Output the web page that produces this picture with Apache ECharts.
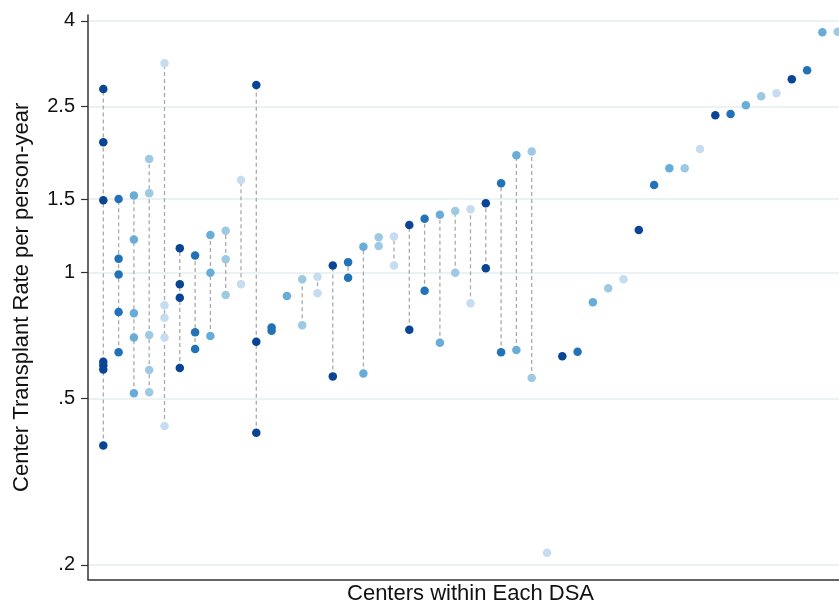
<!DOCTYPE html>
<html>
<head>
<meta charset="utf-8">
<script src="https://cdn.jsdelivr.net/npm/echarts@6/dist/echarts.min.js"></script>
<style>
html,body{margin:0;padding:0;background:#fff;}
#chart{width:839px;height:606px;}
</style>
</head>
<body>
<div id="chart"></div>
<script>
// Center transplant rates (per person-year), one list per DSA, DSAs in plotted order
const dsaRates = [
  [2.75, 2.05, 1.49, 0.612, 0.601, 0.587, 0.386],
  [1.50, 1.08, 0.99, 0.805, 0.645],
  [1.53, 1.20, 0.80, 0.70, 0.515],
  [1.87, 1.55, 0.71, 0.585, 0.518],
  [3.17, 0.836, 0.78, 0.70, 0.43],
  [1.144, 0.938, 0.871, 0.592],
  [1.10, 0.72, 0.657],
  [1.23, 1.00, 0.706],
  [1.26, 1.077, 0.884],
  [1.667, 0.938],
  [2.81, 0.684, 0.414],
  [0.740, 0.726],
  [0.88],
  [0.964, 0.749],
  [0.978, 0.893],
  [1.04, 0.565],
  [1.06, 0.973],
  [1.154, 0.574],
  [1.215, 1.158],
  [1.22, 1.04],
  [1.30, 0.73],
  [1.346, 0.906],
  [1.376, 0.68],
  [1.405, 1.00],
  [1.418, 0.845],
  [1.466, 1.025],
  [1.636, 0.645],
  [1.91, 0.653],
  [1.95, 0.56],
  [0.214],
  [0.631],
  [0.647],
  [0.85],
  [0.918],
  [0.964],
  [1.265],
  [1.621],
  [1.778],
  [1.778],
  [1.976],
  [2.38],
  [2.397],
  [2.515],
  [2.642],
  [2.686],
  [2.902],
  [3.05],
  [3.76],
  [3.77]
];
const yTicks = [0.2, 0.5, 1, 1.5, 2.5, 4];
const palette = ['#0a4595', '#2272b8', '#68acd8', '#9ec9e3', '#c6dcf0'];
const yTitle = 'Center Transplant Rate per person-year';
const xTitle = 'Centers within Each DSA';

const points = [];
const ranges = [];
dsaRates.forEach((rates, i) => {
  const idx = i + 1;
  rates.forEach(r => points.push([idx, r]));
  if (rates.length > 1) {
    ranges.push([idx, Math.min.apply(null, rates), Math.max.apply(null, rates)]);
  }
});

const chart = echarts.init(document.getElementById('chart'), null, {renderer: 'canvas'});
const font = 'Liberation Sans, Arial, Helvetica, sans-serif';
chart.setOption({
  animation: false,
  backgroundColor: '#ffffff',
  grid: {left: 88, right: -14, top: 15, bottom: 26.5, containLabel: false, outerBoundsMode: 'none'},
  xAxis: {
    type: 'value',
    min: 0,
    max: dsaRates.length + 1,
    name: xTitle,
    nameLocation: 'middle',
    nameGap: 3,
    nameTextStyle: {fontFamily: font, fontSize: 22, color: '#111', verticalAlign: 'top'},
    axisLine: {show: true, lineStyle: {color: '#333', width: 1.5}},
    axisTick: {show: false},
    axisLabel: {show: false},
    splitLine: {show: false}
  },
  yAxis: {
    type: 'log',
    logBase: 10,
    min: 0.1846,
    max: 4.134,
    name: yTitle,
    nameLocation: 'middle',
    nameGap: 55,
    nameTextStyle: {fontFamily: font, fontSize: 22, color: '#111'},
    axisLine: {show: true, lineStyle: {color: '#333', width: 1.5}},
    axisTick: {show: true, inside: false, length: 7, customValues: yTicks, lineStyle: {color: '#333', width: 1.2}},
    axisLabel: {
      customValues: yTicks,
      fontFamily: font, fontSize: 20, color: '#111', margin: 13,
      formatter: v => { const n = Number(Number(v).toFixed(3)); return n < 1 ? String(n).replace(/^0\./, '.') : String(n); }
    },
    splitLine: {show: true, lineStyle: {color: '#e4eef0', width: 1.5}}
  },
  series: [
    {
      type: 'custom',
      data: ranges,
      encode: {x: 0, y: [1, 2]},
      silent: true,
      z: 1,
      renderItem: (params, api) => {
        const x = api.value(0);
        const p1 = api.coord([x, api.value(1)]);
        const p2 = api.coord([x, api.value(2)]);
        return {
          type: 'line',
          shape: {x1: p1[0], y1: p1[1], x2: p2[0], y2: p2[1]},
          style: {stroke: '#ababab', lineWidth: 1.3, lineDash: [4, 3]}
        };
      }
    },
    {
      type: 'scatter',
      data: points,
      symbol: 'circle',
      symbolSize: 8.5,
      z: 3,
      itemStyle: {
        opacity: 1,
        color: p => palette[(p.data[0] - 1) % palette.length]
      }
    }
  ]
});
</script>
</body>
</html>
